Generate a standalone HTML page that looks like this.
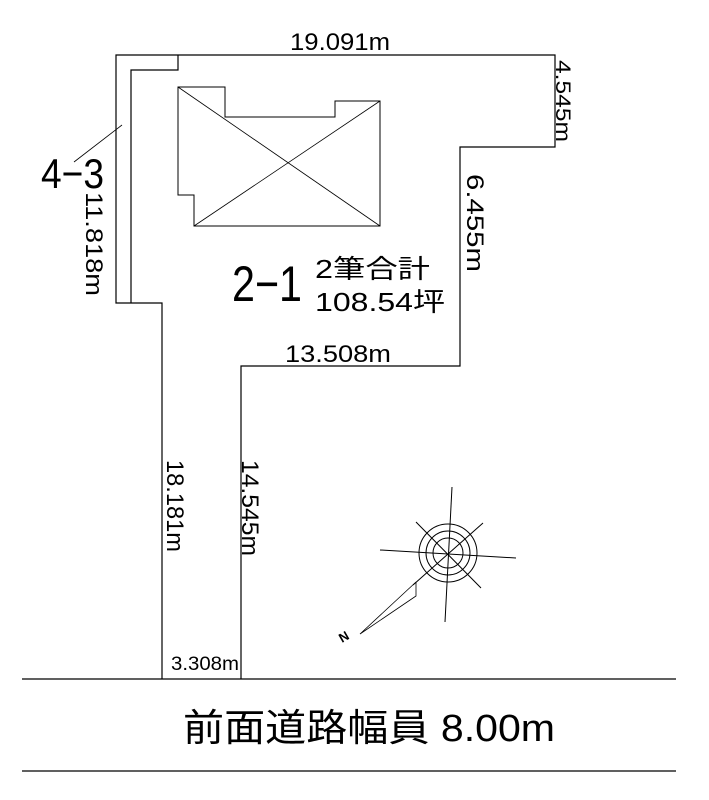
<!DOCTYPE html>
<html><head><meta charset="utf-8"><style>body{margin:0;background:#fff}svg{display:block}</style></head>
<body>
<svg width="709" height="800" viewBox="0 0 709 800" xmlns="http://www.w3.org/2000/svg" font-family="Liberation Sans, Noto Sans CJK JP, sans-serif">
<g fill="none" stroke="#000" stroke-width="1.2">
<polyline points="162,679 162,303 116,303 116,55 555,55 555,147 460,147 460,366 241,366 241,679"/>
<polyline points="131,303 131,70 178,70 178,55"/>
<polygon points="178,87 225,87 225,117 335,117 335,101 380,101 380,226 194,226 194,195 178,195" stroke-width="1"/>
<line x1="178" y1="87" x2="380" y2="226" stroke-width="0.8"/>
<line x1="380" y1="101" x2="194" y2="226" stroke-width="0.8"/>
<line x1="122" y1="125" x2="74" y2="162" stroke-width="0.8"/>
<line x1="22" y1="679" x2="676" y2="679"/>
<line x1="22" y1="771" x2="676" y2="771"/>
</g>
<g fill="none" stroke="#000" stroke-width="1">
<circle cx="448" cy="553" r="29"/><circle cx="448" cy="553" r="22"/><circle cx="448" cy="553" r="15"/>
<line x1="452" y1="487" x2="445" y2="622"/>
<line x1="380" y1="550" x2="516" y2="558"/>
<line x1="416" y1="522" x2="481" y2="588"/>
<line x1="483" y1="523" x2="413" y2="585"/>
<polyline points="416,582 416,596 360,634 416,582" stroke-width="0.8"/>
</g>
<g fill="#000" font-size="24">
<text x="290" y="50" textLength="100" lengthAdjust="spacingAndGlyphs">19.091m</text>
<text x="285" y="362" textLength="106" lengthAdjust="spacingAndGlyphs">13.508m</text>
<text x="171" y="670" font-size="19" textLength="68" lengthAdjust="spacingAndGlyphs">3.308m</text>
<text transform="translate(556,60) rotate(90)" font-size="21" textLength="82" lengthAdjust="spacingAndGlyphs">4.545m</text>
<text transform="translate(86,192) rotate(90)" textLength="104" lengthAdjust="spacingAndGlyphs">11.818m</text>
<text transform="translate(467,174) rotate(90)" textLength="98" lengthAdjust="spacingAndGlyphs">6.455m</text>
<text transform="translate(167,460) rotate(90)" textLength="92" lengthAdjust="spacingAndGlyphs">18.181m</text>
<text transform="translate(242,460) rotate(90)" textLength="96" lengthAdjust="spacingAndGlyphs">14.545m</text>
<text x="41" y="188" font-size="42" textLength="63" lengthAdjust="spacingAndGlyphs">4−3</text>
<text x="232" y="301" font-size="50" textLength="70" lengthAdjust="spacingAndGlyphs">2−1</text>
<text x="315" y="278" font-size="26" textLength="115" lengthAdjust="spacingAndGlyphs">2筆合計</text>
<text x="315" y="311" font-size="26" textLength="130" lengthAdjust="spacingAndGlyphs">108.54坪</text>
<text x="183" y="741" font-size="38" textLength="372" lengthAdjust="spacingAndGlyphs">前面道路幅員 8.00m</text>
<text transform="translate(342,643) rotate(-30)" font-size="13" font-weight="bold">N</text>
</g>
</svg>
</body></html>
